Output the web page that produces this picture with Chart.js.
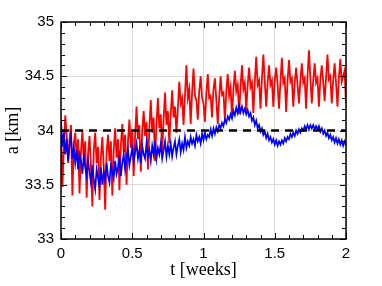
<!DOCTYPE html>
<html>
<head>
<meta charset="utf-8">
<script src="https://cdn.jsdelivr.net/npm/chart.js@4.4.1/dist/chart.umd.min.js"></script>
<style>
  html, body { margin: 0; padding: 0; background: #fff; }
  canvas { display: block; }
</style>
</head>
<body>
<canvas id="orbit-chart" width="382" height="286"></canvas>
<script>
// time grid in weeks (one sample every 0.01 week)
var tStep = 0.01;

// semi-major axis a [km], red run (rows of 0.1 week)
var redA = [
  34.02, 33.48, 33.85, 34.14, 33.95, 33.70, 33.92, 34.05, 33.40, 33.88,
  33.98, 33.75, 33.92, 33.42, 33.80, 34.00, 33.72, 33.90, 33.38, 33.78,
  33.95, 33.68, 33.30, 33.82, 33.98, 33.70, 33.85, 33.36, 33.76, 33.94,
  33.66, 33.27, 33.80, 33.96, 33.72, 33.90, 33.40, 33.82, 34.02, 33.75,
  33.92, 33.45, 33.86, 34.06, 33.80, 33.96, 33.50, 33.90, 34.10, 33.84,
  34.00, 33.58, 33.95, 34.22, 33.92, 34.05, 33.62, 34.00, 34.18, 33.95,
  34.08, 33.64, 34.02, 34.28, 33.98, 34.12, 33.72, 34.06, 34.30, 34.02,
  34.15, 33.80, 34.10, 34.35, 34.05, 34.18, 33.88, 34.15, 34.37, 34.12,
  34.22, 33.98, 34.20, 34.45, 34.25, 34.30, 34.05, 34.32, 34.60, 34.30,
  34.38, 34.06, 34.35, 34.57, 34.32, 34.28, 34.10, 34.36, 34.50, 34.30,
  34.25, 34.08, 34.34, 34.52, 34.30, 34.32, 34.12, 34.38, 34.48, 34.28,
  34.06, 34.30, 34.50, 34.33, 34.35, 34.10, 34.36, 34.52, 34.32, 34.40,
  34.12, 34.38, 34.55, 34.36, 34.42, 34.15, 34.40, 34.60, 34.38, 34.44,
  34.18, 34.42, 34.58, 34.40, 34.44, 34.16, 34.45, 34.68, 34.42, 34.46,
  34.20, 34.48, 34.70, 34.45, 34.22, 34.44, 34.60, 34.42, 34.46, 34.22,
  34.46, 34.58, 34.43, 34.20, 34.45, 34.67, 34.44, 34.48, 34.17, 34.46,
  34.65, 34.45, 34.48, 34.22, 34.44, 34.58, 34.42, 34.25, 34.46, 34.62,
  34.44, 34.48, 34.20, 34.50, 34.74, 34.48, 34.25, 34.46, 34.62, 34.44,
  34.48, 34.22, 34.47, 34.60, 34.45, 34.27, 34.48, 34.70, 34.47, 34.50,
  34.25, 34.46, 34.62, 34.44, 34.22, 34.48, 34.66, 34.45, 34.50, 34.55,
  34.25
];

// semi-major axis a [km], blue run (rows of 0.1 week)
var blueA = [
  34.10, 33.85, 33.98, 33.78, 33.92, 33.72, 33.86, 33.95, 33.74, 33.84,
  33.70, 33.82, 33.64, 33.78, 33.72, 33.60, 33.76, 33.66, 33.58, 33.72,
  33.62, 33.52, 33.68, 33.55, 33.46, 33.64, 33.56, 33.48, 33.66, 33.50,
  33.62, 33.54, 33.70, 33.58, 33.52, 33.68, 33.62, 33.56, 33.72, 33.60,
  33.66, 33.76, 33.58, 33.70, 33.78, 33.64, 33.74, 33.82, 33.68, 33.76,
  33.84, 33.72, 33.80, 33.88, 33.74, 33.82, 33.70, 33.86, 33.78, 33.74,
  33.88, 33.76, 33.82, 33.72, 33.86, 33.78, 33.90, 33.74, 33.84, 33.78,
  33.88, 33.74, 33.82, 33.90, 33.76, 33.86, 33.78, 33.88, 33.76, 33.84,
  33.90, 33.78, 33.86, 33.92, 33.80, 33.88, 33.82, 33.94, 33.84, 33.90,
  33.86, 33.94, 33.88, 33.92, 33.86, 33.96, 33.90, 33.94, 33.88, 33.97,
  33.91, 33.98, 33.92, 33.96, 33.94, 34.01, 33.95, 34.02, 33.97, 34.03,
  33.99, 34.05, 34.02, 34.07, 34.04, 34.10, 34.07, 34.13, 34.10, 34.15,
  34.11, 34.18, 34.14, 34.21, 34.16, 34.23, 34.17, 34.22, 34.16, 34.20,
  34.15, 34.19, 34.13, 34.16, 34.09, 34.12, 34.05, 34.09, 34.02, 34.05,
  33.99, 34.02, 33.96, 33.99, 33.93, 33.97, 33.91, 33.94, 33.89, 33.92,
  33.87, 33.91, 33.86, 33.90, 33.87, 33.91, 33.88, 33.93, 33.90, 33.94,
  33.92, 33.97, 33.94, 33.98, 33.95, 34.00, 33.97, 34.01, 33.98, 34.02,
  34.00, 34.04, 34.01, 34.05, 34.01, 34.05, 34.02, 34.05, 34.01, 34.04,
  34.01, 34.04, 33.99, 34.02, 33.97, 34.00, 33.95, 33.98, 33.93, 33.96,
  33.91, 33.94, 33.89, 33.93, 33.88, 33.92, 33.87, 33.91, 33.86, 33.90,
  33.86
];

var refLevel = 34;
var xTicks = [0, 0.5, 1, 1.5, 2];
var yTicks = [33, 33.5, 34, 34.5, 35];
var xMinor = [0.1, 0.2, 0.3, 0.4, 0.6, 0.7, 0.8, 0.9, 1.1, 1.2, 1.3, 1.4, 1.6, 1.7, 1.8, 1.9];
var yMinor = [33.1, 33.2, 33.3, 33.4, 33.6, 33.7, 33.8, 33.9, 34.1, 34.2, 34.3, 34.4, 34.6, 34.7, 34.8, 34.9];

function toPoints(arr) {
  return arr.map(function (v, i) { return { x: i * tStep, y: v }; });
}

// box around the plot with inward tick marks on all four sides
var frameTicks = {
  id: 'frameTicks',
  afterDraw: function (chart) {
    var ctx = chart.ctx, a = chart.chartArea;
    var xs = chart.scales.x, ys = chart.scales.y;
    ctx.save();
    ctx.strokeStyle = '#000';
    ctx.lineWidth = 1;
    ctx.beginPath();
    function xMark(v, len) {
      var px = Math.round(xs.getPixelForValue(v)) + 0.5;
      ctx.moveTo(px, a.bottom); ctx.lineTo(px, a.bottom - len);
      ctx.moveTo(px, a.top); ctx.lineTo(px, a.top + len);
    }
    function yMark(v, len) {
      var py = Math.round(ys.getPixelForValue(v)) + 0.5;
      ctx.moveTo(a.left, py); ctx.lineTo(a.left + len, py);
      ctx.moveTo(a.right, py); ctx.lineTo(a.right - len, py);
    }
    xTicks.forEach(function (v) { xMark(v, 6); });
    xMinor.forEach(function (v) { xMark(v, 4); });
    yTicks.forEach(function (v) { yMark(v, 6); });
    yMinor.forEach(function (v) { yMark(v, 4); });
    ctx.stroke();
    ctx.lineWidth = 1.5;
    ctx.strokeRect(a.left, a.top, a.right - a.left, a.bottom - a.top);
    ctx.restore();
  }
};

var tickFont = { family: "'Liberation Sans', Arial, sans-serif", size: 15 };
var titleFont = { family: "'Liberation Serif', 'Times New Roman', serif", size: 18 };
function plainLabel(v) { return String(v); }

new Chart(document.getElementById('orbit-chart'), {
  type: 'line',
  data: {
    datasets: [
      {
        label: 'reference',
        data: [{ x: xTicks[0], y: refLevel }, { x: xTicks[xTicks.length - 1], y: refLevel }],
        borderColor: '#000',
        borderWidth: 2.5,
        borderDash: [8, 6],
        pointRadius: 0,
        order: 0
      },
      {
        label: 'blue',
        data: toPoints(blueA),
        borderColor: '#0000ff',
        borderWidth: 1.7,
        pointRadius: 0,
        order: 1
      },
      {
        label: 'red',
        data: toPoints(redA),
        borderColor: '#ff0000',
        borderWidth: 1.8,
        pointRadius: 0,
        order: 2
      }
    ]
  },
  options: {
    responsive: false,
    animation: false,
    devicePixelRatio: 1,
    layout: { padding: { left: 0, right: 36, top: 22, bottom: 0 } },
    plugins: { legend: { display: false }, tooltip: { enabled: false } },
    scales: {
      x: {
        type: 'linear',
        min: 0,
        max: 2,
        afterBuildTicks: function (s) { s.ticks = xTicks.map(function (v) { return { value: v }; }); },
        afterFit: function (s) { s.height = 47; },
        ticks: { font: tickFont, color: '#000', padding: 6, maxRotation: 0, callback: plainLabel },
        grid: { color: '#d9d9d9', lineWidth: 1, drawTicks: false },
        border: { display: false },
        title: { display: true, text: 't [weeks]', font: titleFont, color: '#000', padding: { top: 0, bottom: 5 } }
      },
      y: {
        min: 33,
        max: 35,
        afterBuildTicks: function (s) { s.ticks = yTicks.map(function (v) { return { value: v }; }); },
        afterFit: function (s) { s.width = 61; },
        ticks: { font: tickFont, color: '#000', padding: 7, callback: plainLabel },
        grid: { color: '#d9d9d9', lineWidth: 1, drawTicks: false },
        border: { display: false },
        title: { display: true, text: 'a [km]', font: titleFont, color: '#000', padding: { top: 2, bottom: 0 } }
      }
    }
  },
  plugins: [frameTicks]
});
</script>
</body>
</html>
